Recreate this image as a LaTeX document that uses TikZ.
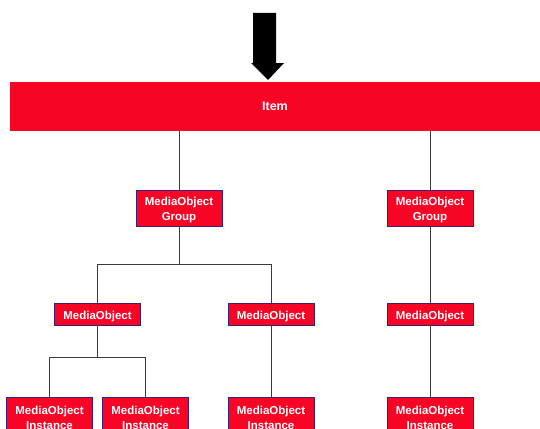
\documentclass[tikz,border=0pt]{standalone}
\usepackage{fontspec}
\setmainfont{Liberation Sans}
\begin{document}
\definecolor{boxred}{HTML}{F80424}
\definecolor{boxedge}{HTML}{3A1F78}
\definecolor{wire}{HTML}{3A3A3A}
\begin{tikzpicture}[x=1pt,y=-1pt,
  box/.style={draw=boxedge,line width=0.9pt,fill=boxred,
    inner sep=0pt,minimum width=86pt},
  tallbox/.style={box,minimum height=36pt},
  flatbox/.style={box,minimum height=22pt},
  lbl/.style={text=white,font=\fontsize{11.5}{15}\selectfont\bfseries,
    align=center,inner sep=0pt,yshift=-2.5pt},
  wire/.style={draw=wire,line width=0.8pt}]
\clip (0,0) rectangle (540,428);
% entry arrow
\fill[black] (253,13) -- (276,13) -- (276,63) -- (284,63) -- (268,80)
  -- (251,63) -- (253,63) -- cycle;
% top bar
\node[fill=boxred,text=white,minimum width=530pt,minimum height=49pt,
  inner sep=0pt,font=\fontsize{12.5}{15}\selectfont\bfseries]
  (item) at (275,106.5) {Item};
% groups
\node[tallbox,label={[lbl]center:{MediaObject\\Group}}] (g1) at (179,208) {};
\node[tallbox,label={[lbl]center:{MediaObject\\Group}}] (g2) at (430,208) {};
% media objects
\node[flatbox,label={[lbl]center:{MediaObject}}] (m1) at (97.5,314) {};
\node[flatbox,label={[lbl]center:{MediaObject}}] (m2) at (271,314) {};
\node[flatbox,label={[lbl]center:{MediaObject}}] (m3) at (430,314) {};
% instances
\node[tallbox,label={[lbl]center:{MediaObject\\Instance}}] (i1) at (49.5,415) {};
\node[tallbox,label={[lbl]center:{MediaObject\\Instance}}] (i2) at (145.5,415) {};
\node[tallbox,label={[lbl]center:{MediaObject\\Instance}}] (i3) at (271,415) {};
\node[tallbox,label={[lbl]center:{MediaObject\\Instance}}] (i4) at (430,415) {};
% connectors
\draw[wire] (item.south -| g1) -- (g1.north);
\draw[wire] (item.south -| g2) -- (g2.north);
\draw[wire] (g1.south) -- ++(0,38) coordinate (j1);
\draw[wire] (m1.north) |- (j1) -| (m2.north);
\draw[wire] (m1.south) -- ++(0,32) coordinate (j2);
\draw[wire] (i1.north) |- (j2) -| (i2.north);
\draw[wire] (m2.south) -- (i3.north);
\draw[wire] (g2.south) -- (m3.north);
\draw[wire] (m3.south) -- (i4.north);
\end{tikzpicture}
\end{document}
